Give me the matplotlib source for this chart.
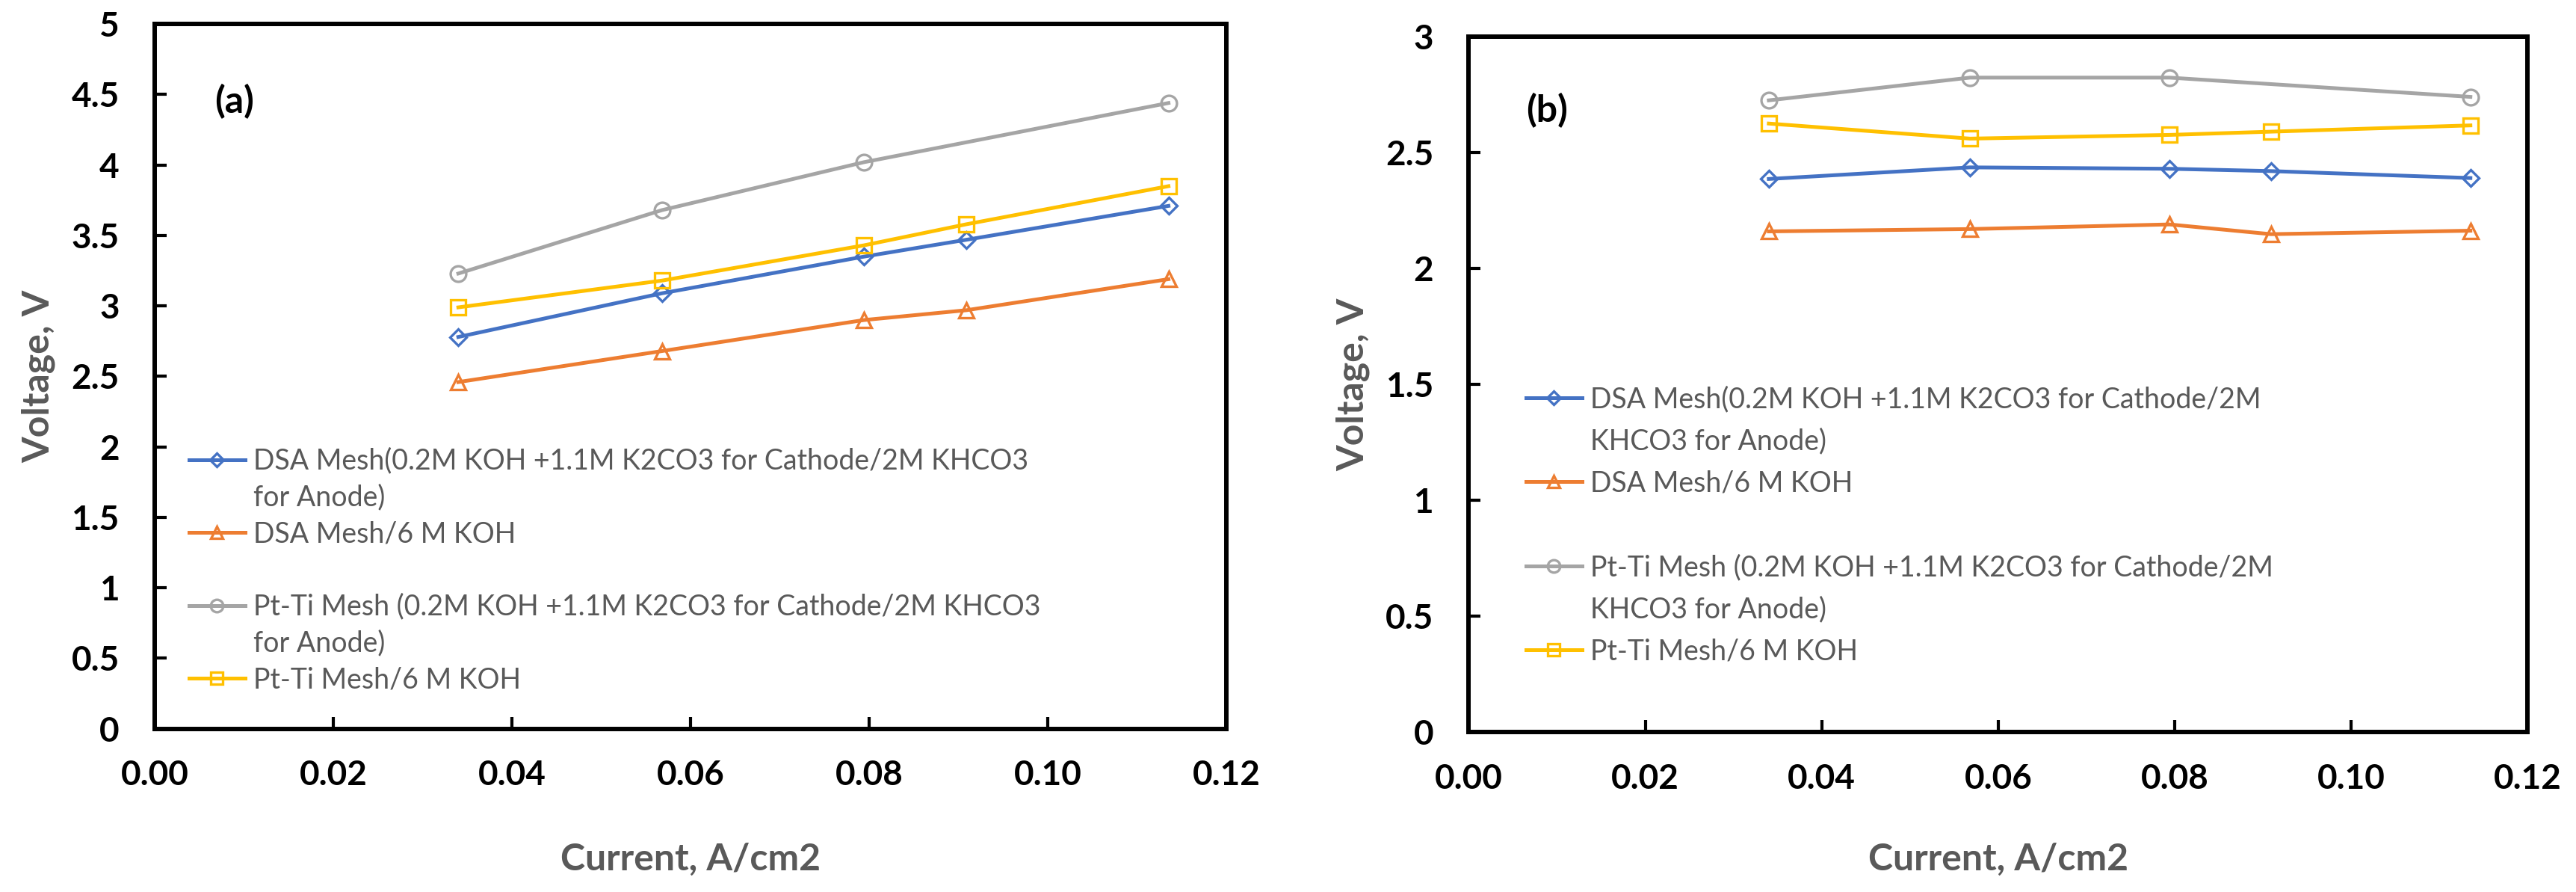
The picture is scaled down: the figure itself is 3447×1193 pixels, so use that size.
import matplotlib
matplotlib.use("Agg")
import matplotlib.pyplot as plt
from matplotlib.lines import Line2D

plt.rcParams['font.family'] = ['Lato', 'DejaVu Sans']

# current density, A/cm2
current = [0.034, 0.0568, 0.0794, 0.0909, 0.1135]
current_grey = [0.034, 0.0568, 0.0794, 0.1135]

# panel (a)
a_dsa_carb = [2.78, 3.09, 3.35, 3.47, 3.71]
a_dsa_koh = [2.46, 2.68, 2.90, 2.97, 3.19]
a_pt_carb = [3.23, 3.68, 4.02, 4.44]
a_pt_koh = [2.99, 3.18, 3.43, 3.58, 3.85]

# panel (b)
b_dsa_carb = [2.386, 2.436, 2.43, 2.42, 2.39]
b_dsa_koh = [2.16, 2.17, 2.19, 2.148, 2.163]
b_pt_carb = [2.725, 2.823, 2.823, 2.74]
b_pt_koh = [2.625, 2.56, 2.576, 2.59, 2.617]

blue, orange, grey, yellow = '#4472C4', '#ED7D31', '#A5A5A5', '#FFC000'
txt_grey = '#595959'

labels_a = ["DSA Mesh(0.2M KOH +1.1M K2CO3 for Cathode/2M KHCO3", "for Anode)",
            "DSA Mesh/6 M KOH", " ",
            "Pt-Ti Mesh (0.2M KOH +1.1M K2CO3 for Cathode/2M KHCO3", "for Anode)",
            "Pt-Ti Mesh/6 M KOH"]
labels_b = ["DSA Mesh(0.2M KOH +1.1M K2CO3 for Cathode/2M", "KHCO3 for Anode)",
            "DSA Mesh/6 M KOH", " ",
            "Pt-Ti Mesh (0.2M KOH +1.1M K2CO3 for Cathode/2M", "KHCO3 for Anode)",
            "Pt-Ti Mesh/6 M KOH"]

fig = plt.figure(figsize=(34.48, 11.93), dpi=100)
ax1 = fig.add_axes([0.060, 0.183, 0.416, 0.790])
ax2 = fig.add_axes([0.570, 0.179, 0.411, 0.780])

style = dict(lw=3.6, mew=2.4, mfc='none')


def draw(ax, dsa_c, dsa_k, pt_c, pt_k, ymax, yticks, ylabels, labels, tag, tagpos,
         legpos, legspace, xlab_y, ylab_x):
    h1, = ax.plot(current, dsa_c, color=blue, marker='D', ms=11, **style)
    h2, = ax.plot(current, dsa_k, color=orange, marker='^', ms=15, **style)
    h3, = ax.plot(current_grey, pt_c, color=grey, marker='o', ms=15, **style)
    h4, = ax.plot(current, pt_k, color=yellow, marker='s', ms=15, **style)
    ax.set_xlim(0, 0.12)
    ax.set_ylim(0, ymax)
    ax.set_xticks([0, 0.02, 0.04, 0.06, 0.08, 0.10, 0.12])
    ax.set_xticklabels(['0.00', '0.02', '0.04', '0.06', '0.08', '0.10', '0.12'])
    ax.set_yticks(yticks)
    ax.set_yticklabels(ylabels)
    for s in ax.spines.values():
        s.set_linewidth(4.3)
        s.set_color('black')
    ax.tick_params(direction='in', length=11.5, width=3, labelsize=33,
                   top=False, right=False)
    ax.tick_params(axis='x', pad=30)
    ax.tick_params(axis='y', pad=34)
    for t in ax.get_xticklabels() + ax.get_yticklabels():
        t.set_fontweight('bold')
    ax.set_xlabel('Current, A/cm2', fontsize=36, fontweight='bold', color=txt_grey,
                  va='center')
    ax.xaxis.set_label_coords(0.5, xlab_y)
    ax.set_ylabel('Voltage, V', fontsize=36, fontweight='bold', color=txt_grey,
                  va='center')
    ax.yaxis.set_label_coords(ylab_x, 0.5)
    ax.text(tagpos[0], tagpos[1], tag, transform=ax.transAxes, fontsize=36,
            fontweight='bold', va='center', ha='left')
    blank = Line2D([], [], color='none')
    handles = [h1, blank, h2, blank, h3, blank, h4]
    ax.legend(handles, labels, loc='upper left', bbox_to_anchor=legpos, frameon=False,
              fontsize=27, labelcolor=txt_grey, handlelength=2.0, handletextpad=0.3,
              borderpad=0, borderaxespad=0, labelspacing=legspace, markerscale=0.8)


draw(ax1, a_dsa_carb, a_dsa_koh, a_pt_carb, a_pt_koh, 5,
     [0, 0.5, 1, 1.5, 2, 2.5, 3, 3.5, 4, 4.5, 5],
     ['0', '0.5', '1', '1.5', '2', '2.5', '3', '3.5', '4', '4.5', '5'],
     labels_a, '(a)', (0.056, 0.89), (0.032, 0.399), 0.34, -0.185, -0.108)
draw(ax2, b_dsa_carb, b_dsa_koh, b_pt_carb, b_pt_koh, 3,
     [0, 0.5, 1, 1.5, 2, 2.5, 3],
     ['0', '0.5', '1', '1.5', '2', '2.5', '3'],
     labels_b, '(b)', (0.054, 0.894), (0.054, 0.498), 0.54, -0.183, -0.109)

fig.savefig('out.png', dpi=100)
